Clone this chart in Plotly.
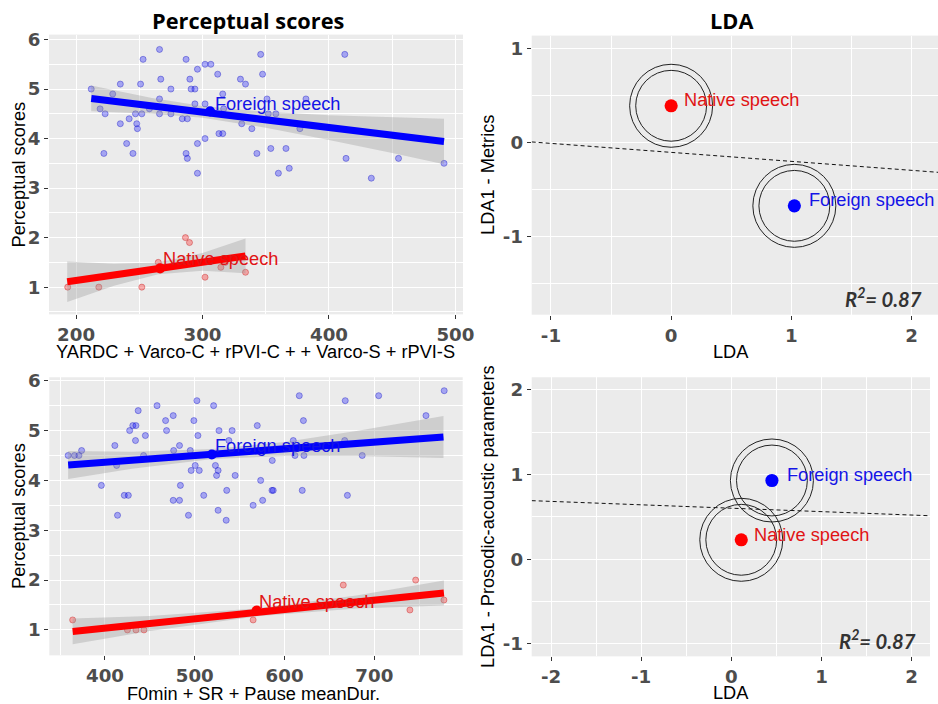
import plotly.graph_objects as go

# ---------------- DATA ----------------
# Top-left: perceptual scores vs metrics (YARDC + Varco-C + ...)
tl_foreign_x = [212, 219, 223, 222, 229, 235, 235, 240, 242, 245, 247, 248, 248.5, 251, 252, 253, 258, 266, 266, 266,
                267, 275, 275, 284, 288, 287, 287, 288, 290, 291, 294, 294, 296, 296, 296, 302, 306.6, 302, 302, 312,
                316, 313, 316, 316.7, 330, 334, 331, 339, 343, 346, 347.5, 351, 352, 358, 354, 366, 360, 368.6, 377,
                381.8, 412.5, 413.5, 433.5, 455, 491]
tl_foreign_y = [5.0, 4.6, 4.5, 3.7, 4.9, 5.1, 4.3, 3.9, 4.4, 3.7, 4.5, 4.3, 4.2, 5.1, 4.5, 5.6, 4.6, 5.8, 4.8, 4.5,
                5.2, 5.0, 4.5, 4.4, 4.4, 5.6, 3.7, 3.6, 5.2, 5.0, 5.0, 4.7, 5.4, 3.9, 3.3, 5.5, 5.5, 4.7, 4.0, 5.3,
                4.9, 4.1, 4.1, 4.6, 5.2, 5.1, 4.3, 4.2, 3.7, 5.7, 5.3, 4.8, 4.5, 4.5, 3.8, 3.8, 3.3, 3.4, 4.2,
                4.8, 5.7, 3.6, 3.2, 3.6, 3.5]
tl_native_x = [193.4, 218, 252, 265, 286.5, 289.7, 302, 314.5, 334, 318]
tl_native_y = [1.0, 1.0, 1.0, 1.5, 2.0, 1.9, 1.2, 1.4, 1.3, 1.5]
tl_foreign_fit_x = [212, 491]
tl_foreign_fit_y = [4.81, 3.94]
tl_foreign_band_x = [212, 260, 300, 350, 400, 450, 491]
tl_foreign_band_hi = [5.07, 4.82, 4.66, 4.54, 4.47, 4.43, 4.40]
tl_foreign_band_lo = [4.55, 4.50, 4.42, 4.22, 3.97, 3.71, 3.48]
tl_native_fit_x = [193, 334]
tl_native_fit_y = [1.11, 1.63]
tl_native_band_x = [193, 230, 265, 300, 334]
tl_native_band_hi = [1.52, 1.47, 1.50, 1.69, 1.98]
tl_native_band_lo = [0.70, 1.03, 1.26, 1.33, 1.28]
tl_mean_x = [306, 266.5]
tl_mean_y = [4.55, 1.38]
tl_label_x = [359.5, 314]
tl_label_y = [4.70, 1.56]

# Bottom-left: perceptual scores vs prosodic parameters (F0min + SR + Pause meanDur.)
bl_foreign_x = [359, 366, 371, 374, 396, 411, 413, 414, 421.5, 426, 427.5, 431, 434.5, 434, 437, 443, 445, 458,
                467.5, 468.6, 476, 476.5, 476, 483, 483, 484, 493, 495, 496, 499, 500.5, 502.4, 503.5, 505, 510,
                521, 523, 524.3, 526, 526, 527, 535, 535.6, 541.6, 545, 538, 565, 569.6, 573.4, 575.6, 586.3, 586,
                587.4, 616.4, 621, 611.6, 621.6, 609.7, 619.7, 667.6, 667, 670, 686.5, 704.8, 757.5, 777.8]
bl_foreign_y = [4.5, 4.5, 4.5, 4.6, 3.9, 4.7, 4.3, 3.3, 3.7, 3.7, 5.0, 5.1, 5.1, 4.8, 5.4, 4.5, 4.9, 5.5,
                5.2, 5.0, 5.3, 4.6, 3.6, 3.6, 4.7, 3.9, 3.3, 4.6, 4.2, 5.2, 4.3, 5.6, 4.9, 4.2, 3.7,
                5.5, 4.3, 4.1, 4.2, 3.4, 5.0, 3.2, 3.8, 5.0, 4.1, 4.8, 3.5, 5.1, 4.0, 3.6, 4.4, 3.8,
                3.8, 5.7, 5.2, 4.5, 4.5, 4.8, 3.8, 5.6, 4.8, 3.7, 4.5, 5.7, 5.3, 5.8]
bl_native_x = [364, 425, 434.5, 443.4, 565, 567, 665.4, 739.6, 746, 777.5]
bl_native_y = [1.2, 1.0, 1.0, 1.0, 1.2, 1.4, 1.9, 1.4, 2.0, 1.6]
bl_foreign_fit_x = [359, 777]
bl_foreign_fit_y = [4.31, 4.87]
bl_foreign_band_x = [359, 430, 520, 600, 680, 777]
bl_foreign_band_hi = [4.59, 4.575, 4.63, 4.77, 4.99, 5.29]
bl_foreign_band_lo = [4.03, 4.235, 4.43, 4.49, 4.49, 4.45]
bl_native_fit_x = [364, 777.5]
bl_native_fit_y = [0.97, 1.74]
bl_native_band_x = [364, 450, 570, 680, 777.5]
bl_native_band_hi = [1.23, 1.28, 1.434, 1.689, 1.99]
bl_native_band_lo = [0.71, 0.98, 1.274, 1.429, 1.49]
bl_mean_x = [519, 569]
bl_mean_y = [4.52, 1.39]
bl_label_x = [592, 635.7]
bl_label_y = [4.69, 1.56]

group_labels = ["Foreign speech", "Native speech"]

# Top-right: LDA - Metrics
tr_group_x = [1.025, 0.0]      # foreign, native
tr_group_y = [-0.67, 0.395]
tr_label_x = [1.134, 0.094]
tr_label_y = [-0.608, 0.459]
tr_boundary_x = [-1.16, 2.22]
tr_boundary_y = [0.01, -0.313]

# Bottom-right: LDA - Prosodic-acoustic parameters
br_group_x = [0.45, 0.11]
br_group_y = [0.93, 0.23]
br_label_x = [0.60, 0.233]
br_label_y = [0.99, 0.29]
br_boundary_x = [-2.214, 2.203]
br_boundary_y = [0.692, 0.514]

r2_text = "R<sup>2</sup>= 0.87"

# ticks
left_y_ticks = [1, 2, 3, 4, 5, 6]
tl_x_ticks = [200, 300, 400, 500]
bl_x_ticks = [400, 500, 600, 700]
tr_x_ticks = [-1, 0, 1, 2]
tr_y_ticks = [-1, 0, 1]
br_x_ticks = [-2, -1, 0, 1, 2]
br_y_ticks = [-1, 0, 1, 2]

# ---------------- STYLE ----------------
W, H = 938, 704          # reference canvas; layout positions are fractions of it
S = 1 / 0.988            # the photographed page comes out ~1.2% smaller; compensate
OFF = 7.5                # and ~7.5 px lower; compensate
FIG_W, FIG_H = round(W * S), round(H * S)
BLUE = "#0000ff"
RED = "#ff0000"
TICKFONT = dict(family="DejaVu Sans", size=18 * S, color="#4d4d4d", weight="bold")
TITLEFONT = dict(family="Liberation Sans", size=18 * S, color="#000000")
LABELFONT = 18 * S


def dom_x(a, b):
    return [a / W, b / W]


def ypos(p):
    return 1 - (p - OFF) / H


def dom_y(top, bottom):
    return [ypos(bottom), ypos(top)]


def tick_text(vals):
    return [str(v) for v in vals]


fig = go.Figure()


def regression_panel(xa, ya, fx, fy, nx, ny, ffx, ffy, fbx, fbh, fbl, nfx, nfy, nbx, nbh, nbl, mx, my, lx, ly):
    fig.add_trace(go.Scatter(x=fx, y=fy, mode="markers", xaxis=xa, yaxis=ya, showlegend=False,
                             marker=dict(size=6 * S, color="rgba(0,0,255,0.3)",
                                         line=dict(color="rgba(0,0,190,0.35)", width=1))))
    fig.add_trace(go.Scatter(x=nx, y=ny, mode="markers", xaxis=xa, yaxis=ya, showlegend=False,
                             marker=dict(size=6 * S, color="rgba(255,0,0,0.3)",
                                         line=dict(color="rgba(190,0,0,0.35)", width=1))))
    for bx, bh, bl in ((fbx, fbh, fbl), (nbx, nbh, nbl)):
        fig.add_trace(go.Scatter(x=list(bx) + list(bx)[::-1], y=list(bh) + list(bl)[::-1],
                                 mode="lines", fill="toself", fillcolor="rgba(153,153,153,0.35)",
                                 line=dict(width=0), xaxis=xa, yaxis=ya, showlegend=False,
                                 hoverinfo="skip"))
    fig.add_trace(go.Scatter(x=ffx, y=ffy, mode="lines", line=dict(color=BLUE, width=7 * S),
                             xaxis=xa, yaxis=ya, showlegend=False))
    fig.add_trace(go.Scatter(x=nfx, y=nfy, mode="lines", line=dict(color=RED, width=7 * S),
                             xaxis=xa, yaxis=ya, showlegend=False))
    fig.add_trace(go.Scatter(x=mx, y=my, mode="markers", xaxis=xa, yaxis=ya, showlegend=False,
                             marker=dict(size=10 * S, color=[BLUE, RED])))
    for x, y, t, c in zip(lx, ly, group_labels, ["#1414e6", "#e01414"]):
        fig.add_annotation(x=x, y=y, xref=xa, yref=ya, text=t, showarrow=False,
                           xanchor="center", yanchor="middle",
                           font=dict(family="Liberation Sans", size=LABELFONT, color=c))


def lda_panel(xa, ya, gx, gy, lx, ly, bx, by):
    fig.add_trace(go.Scatter(x=bx, y=by, mode="lines", xaxis=xa, yaxis=ya, showlegend=False,
                             line=dict(color="#111111", width=1, dash="4px,3px")))
    for s in (82, 70):
        fig.add_trace(go.Scatter(x=gx, y=gy, mode="markers", xaxis=xa, yaxis=ya, showlegend=False,
                                 marker=dict(symbol="circle-open", size=s * S, color="#222222",
                                             line=dict(width=1, color="#222222"))))
    fig.add_trace(go.Scatter(x=gx, y=gy, mode="markers", xaxis=xa, yaxis=ya, showlegend=False,
                             marker=dict(size=13 * S, color=[BLUE, RED])))
    for x, y, t, c in zip(lx, ly, group_labels, ["#1414e6", "#e01414"]):
        fig.add_annotation(x=x, y=y, xref=xa, yref=ya, text=t, showarrow=False,
                           xanchor="left", yanchor="middle",
                           font=dict(family="Liberation Sans", size=LABELFONT, color=c))


regression_panel("x", "y", tl_foreign_x, tl_foreign_y, tl_native_x, tl_native_y,
                 tl_foreign_fit_x, tl_foreign_fit_y, tl_foreign_band_x, tl_foreign_band_hi, tl_foreign_band_lo,
                 tl_native_fit_x, tl_native_fit_y, tl_native_band_x, tl_native_band_hi, tl_native_band_lo,
                 tl_mean_x, tl_mean_y, tl_label_x, tl_label_y)
regression_panel("x3", "y3", bl_foreign_x, bl_foreign_y, bl_native_x, bl_native_y,
                 bl_foreign_fit_x, bl_foreign_fit_y, bl_foreign_band_x, bl_foreign_band_hi, bl_foreign_band_lo,
                 bl_native_fit_x, bl_native_fit_y, bl_native_band_x, bl_native_band_hi, bl_native_band_lo,
                 bl_mean_x, bl_mean_y, bl_label_x, bl_label_y)
lda_panel("x2", "y2", tr_group_x, tr_group_y, tr_label_x, tr_label_y, tr_boundary_x, tr_boundary_y)
lda_panel("x4", "y4", br_group_x, br_group_y, br_label_x, br_label_y, br_boundary_x, br_boundary_y)

fig.add_annotation(x=2.105, y=-1.64, xref="x2", yref="y2", text="<b><i>" + r2_text + "</i></b>",
                   showarrow=False, xanchor="right", yanchor="middle",
                   font=dict(family="Lato", size=20 * S, color="#333333"))
fig.add_annotation(x=2.07, y=-0.943, xref="x4", yref="y4", text="<b><i>" + r2_text + "</i></b>",
                   showarrow=False, xanchor="right", yanchor="middle",
                   font=dict(family="Lato", size=20 * S, color="#333333"))


def axis(domain, rng, ticks, minor_step, anchor):
    return dict(domain=domain, range=rng, anchor=anchor, tickmode="array", tickvals=ticks,
                ticktext=tick_text(ticks), tickfont=TICKFONT, ticks="outside", ticklen=4,
                tickcolor="#333333", tickwidth=1, showgrid=True, gridcolor="white", gridwidth=1.3,
                zeroline=False, showline=False,
                minor=dict(tickmode="linear", tick0=0, dtick=minor_step, showgrid=True,
                           gridcolor="white", gridwidth=0.7, ticks=""))


fig.update_layout(
    width=FIG_W, height=FIG_H, margin=dict(l=0, r=0, t=0, b=0),
    paper_bgcolor="white", plot_bgcolor="#EBEBEB", showlegend=False,
    xaxis=axis(dom_x(49, 463), [178.6, 506], tl_x_ticks, 50, "y"),
    yaxis=axis(dom_y(35, 314), [0.45, 6.1], left_y_ticks, 0.5, "x"),
    xaxis2=axis(dom_x(531.7, 938), [-1.16, 2.22], tr_x_ticks, 0.5, "y2"),
    yaxis2=axis(dom_y(36, 314.3), [-1.828, 1.142], tr_y_ticks, 0.5, "x2"),
    xaxis3=axis(dom_x(49.3, 462.7), [338, 798.4], bl_x_ticks, 50, "y3"),
    yaxis3=axis(dom_y(376.7, 654), [0.49, 6.07], left_y_ticks, 0.5, "x3"),
    xaxis4=axis(dom_x(531.7, 930), [-2.214, 2.203], br_x_ticks, 0.5, "y4"),
    yaxis4=axis(dom_y(376.7, 655), [-1.146, 2.149], br_y_ticks, 0.5, "x4"),
)

HEADFONT = dict(family="Open Sans", size=21.5 * S, color="#000000")
texts = [
    ("<b>Perceptual scores</b>", 248, 21, 0, HEADFONT),
    ("<b>LDA</b>", 731, 21, 0, HEADFONT),
    ("Perceptual scores", 19, 174.5, -90, TITLEFONT),
    ("Perceptual scores", 19, 515, -90, TITLEFONT),
    ("LDA1 - Metrics", 488, 175, -90, TITLEFONT),
    ("LDA1 - Prosodic-acoustic parameters", 488, 516, -90, TITLEFONT),
    ("YARDC + Varco-C + rPVI-C + + Varco-S + rPVI-S", 255.8, 351.7, 0, TITLEFONT),
    ("F0min + SR + Pause meanDur.", 253, 693, 0, TITLEFONT),
    ("LDA", 731, 351.7, 0, TITLEFONT),
    ("LDA", 731, 691.7, 0, TITLEFONT),
]
for t, px, py, ang, f in texts:
    fig.add_annotation(x=px / W, y=ypos(py), xref="paper", yref="paper", text=t, showarrow=False,
                       textangle=ang, xanchor="center", yanchor="middle", font=f)

page_fix = ("var s=document.documentElement.style;s.margin='0';s.padding='0';s.overflow='hidden';"
            "var b=document.body.style;b.margin='0';b.padding='0';b.overflow='hidden';")
fig.write_html("out.html", config={"displayModeBar": False}, post_script=page_fix)
